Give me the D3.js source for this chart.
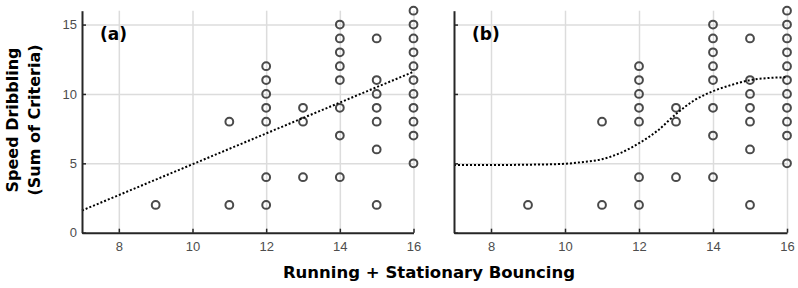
<!DOCTYPE html>
<html lang="en">
<meta charset="utf-8">
<head>
    <script src="https://d3js.org/d3.v7.min.js"></script>
</head>
<body style="margin:0;background:#fff">
<svg width="798" height="288"></svg>
</body>

<script>
// data
var xs = [9, 11, 11, 12, 12, 12, 12, 12, 12, 12, 13, 13, 13,
          14, 14, 14, 14, 14, 14, 14, 14,
          15, 15, 15, 15, 15, 15, 15,
          16, 16, 16, 16, 16, 16, 16, 16, 16, 16, 16];
var ys = [2, 2, 8, 2, 4, 8, 9, 10, 11, 12, 4, 8, 9,
          4, 7, 9, 11, 12, 13, 14, 15,
          2, 6, 8, 9, 10, 11, 14,
          5, 7, 8, 9, 10, 11, 12, 13, 14, 15, 16];

// fitted lines
var fitA_x = [7, 16];
var fitA_y = [1.6, 11.6];
var fitB_x = [7, 8, 9, 10, 10.5, 11, 11.5, 12, 12.5, 13, 13.5, 14, 14.5, 15, 15.5, 16];
var fitB_y = [4.88, 4.88, 4.9, 4.97, 5.1, 5.3, 5.75, 6.45, 7.35, 8.55, 9.55, 10.2, 10.65, 11.0, 11.15, 11.2];

var xTicks = [8, 10, 12, 14, 16];
var yTicks = [0, 5, 10, 15];
var panelLabels = ["(a)", "(b)"];

var svg = d3.select("svg");
var top_ = 10.7, bottom = 232.7;
var panels = [
    {left: 82, right: 413.5, fx: fitA_x, fy: fitA_y, showY: true},
    {left: 454, right: 787, fx: fitB_x, fy: fitB_y, showY: false}
];

var y = d3.scaleLinear().domain([0, 16]).range([bottom, top_]);

panels.forEach(function(p, k) {
    var x = d3.scaleLinear().domain([7, 16]).range([p.left, p.right]);
    var g = svg.append("g");

    // grid
    g.append("g")
        .attr("transform", "translate(0," + bottom + ")")
        .call(d3.axisBottom(x).tickValues(xTicks).tickSize(-(bottom - top_)).tickFormat(""))
        .call(function(s) { s.select(".domain").remove(); })
        .selectAll("line").attr("stroke", "#dcdcdc").attr("stroke-width", 1.5);
    g.append("g")
        .attr("transform", "translate(" + p.left + ",0)")
        .call(d3.axisLeft(y).tickValues([5, 10, 15]).tickSize(-(p.right - p.left)).tickFormat(""))
        .call(function(s) { s.select(".domain").remove(); })
        .selectAll("line").attr("stroke", "#dcdcdc").attr("stroke-width", 1.5);

    // points
    g.selectAll(".pt")
        .data(xs)
        .enter().append("circle")
        .attr("class", "pt")
        .attr("cx", function(d) { return x(d); })
        .attr("cy", function(d, i) { return y(ys[i]); })
        .attr("r", 3.9)
        .attr("fill", "none")
        .attr("stroke", "#4a4a4a")
        .attr("stroke-width", 2);

    // fit line
    var line = d3.line()
        .x(function(d) { return x(d); })
        .y(function(d, i) { return y(p.fy[i]); })
        .curve(d3.curveMonotoneX);
    g.append("path")
        .attr("d", line(p.fx))
        .attr("fill", "none")
        .attr("stroke", "#000")
        .attr("stroke-width", 2)
        .attr("stroke-dasharray", "2,2");

    // axes
    var ax = g.append("g")
        .attr("transform", "translate(0," + bottom + ")")
        .call(d3.axisBottom(x).tickValues(xTicks).tickSizeInner(-4).tickSizeOuter(0).tickPadding(9));
    var ay = g.append("g")
        .attr("transform", "translate(" + p.left + ",0)")
        .call(d3.axisLeft(y).tickValues(yTicks).tickSizeInner(-4).tickSizeOuter(0).tickPadding(5)
            .tickFormat(p.showY ? d3.format("d") : ""));
    [ax, ay].forEach(function(a) {
        a.select(".domain").attr("stroke", "#262626").attr("stroke-width", 2);
        a.selectAll("line").attr("stroke", "#262626").attr("stroke-width", 1.5);
        a.selectAll("text")
            .attr("fill", "#4d4d4d")
            .style("font-family", "Liberation Sans, Arial, sans-serif")
            .style("font-size", "13px");
    });

    // panel label
    g.append("text")
        .attr("x", p.left + 18)
        .attr("y", 40)
        .style("font-family", "DejaVu Sans, Verdana, sans-serif")
        .style("font-weight", "bold")
        .style("font-size", "17px")
        .text(panelLabels[k]);
});

// axis titles
svg.append("text")
    .attr("x", 429)
    .attr("y", 278)
    .attr("text-anchor", "middle")
    .style("font-family", "DejaVu Sans, Verdana, sans-serif")
    .style("font-weight", "bold")
    .style("font-size", "16.5px")
    .text("Running + Stationary Bouncing");

var yl = svg.append("text")
    .attr("transform", "translate(0,120) rotate(-90)")
    .attr("text-anchor", "middle")
    .style("font-family", "DejaVu Sans, Verdana, sans-serif")
    .style("font-weight", "bold")
    .style("font-size", "16px");
yl.append("tspan").attr("x", 0).attr("y", 18).text("Speed Dribbling");
yl.append("tspan").attr("x", 0).attr("y", 40).text("(Sum of Criteria)");
</script>
</html>
